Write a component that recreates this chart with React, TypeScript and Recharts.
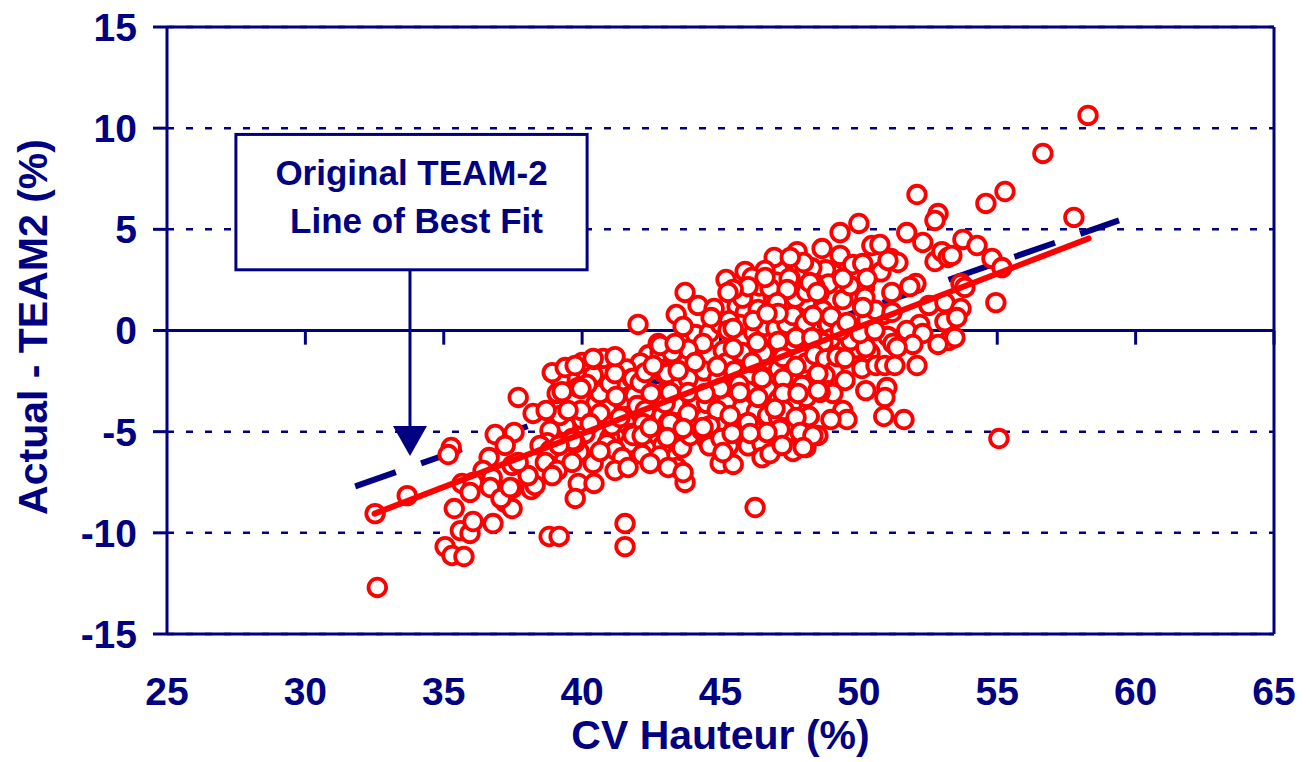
import { ComposedChart, Scatter, XAxis, YAxis, CartesianGrid, ReferenceLine, ReferenceArea, ReferenceDot } from 'recharts'

const NAVY = '#000080'
const RED = '#ff0000'
const FONT = '"Liberation Sans", Arial, sans-serif'

const xTicks = [25, 30, 35, 40, 45, 50, 55, 60, 65]
const yTicks = [-15, -10, -5, 0, 5, 10, 15]

const boxLines = ['Original TEAM-2', 'Line of Best Fit']

const originalFit = [{ x: 31.8, y: -7.7 }, { x: 59.4, y: 5.44 }]
const newFit = [{ x: 32.5, y: -9.05 }, { x: 58.3, y: 4.55 }]

// rough where the rings overlap
const underLeft = [
  [40.5, -3.6], [40.9, -3.9], [41.5, -3.4], [41.9, -3.2], [42.7, -3.6], [42.9, -4.2], [41.6, -4.6], [41, -5.3],
  [40.9, -5.6], [41.7, -5.6], [42.5, -5.5], [42.9, -5.7], [40.1, -5.1], [39.4, -4.7], [39.2, -4.2], [40, -4.4],
  [39.9, -6], [39.3, -6.2], [41.2, -5.9], [42.3, -5.8], [42.8, -6.2], [43.4, -5.5], [43.6, -5.8], [43.7, -3.5],
  [43.4, -3.7], [43, -3.6], [42.4, -1.2], [42.1, -1.6], [41.6, -1.9], [40.9, -2], [40.4, -2.2], [39.6, -2.5], [39.2, -2.4],
]
const underCentre = [
  [44.1, -0.2], [44.6, -0.1], [45, 0.3], [45.6, 1.2], [45.9, 0.9], [45.7, 0.3], [46.2, -0.1], [46.6, 0.2],
  [47, 0.1], [47.4, 0.3], [47.6, -0.6], [47.9, 0.9], [48.1, 1.4], [48.7, 1], [48.9, 0.3], [49, -0.4],
  [48.7, -0.6], [49, 0.7], [44.6, -1.2], [45.1, -1], [45.2, -1.6], [45.5, -2], [46, -2.2], [46.8, -1.5],
  [47.1, -1.9], [47.6, -2.5], [48.1, -1.6], [48.4, -1.2], [48.8, -1.4], [44.4, -2], [44.9, -2.4], [45.3, -2.9],
  [46, -3], [46.7, -2.9], [47.1, -3.4], [47.6, -3.6], [48.1, -3.3], [48.3, -2.6], [44, -3.7], [44.5, -3.6],
  [45.2, -3.6], [45.8, -3.8], [46.3, -4], [46.7, -4.2], [47.1, -4.3], [44.9, -4.6], [45.6, -5], [46.3, -5],
  [46.9, -5.6], [47.5, -5], [48, -4.6], [43.9, -5.2], [44.5, -5.4], [44.6, -5.7], [45.3, -5.7], [46, -5.7],
  [46.5, -5.6], [49.1, -2], [49.9, -0.9], [50.4, -1.1], [49.7, -0.5], [50.3, 0.5], [50.9, 0.8], [50.6, 1],
  [51.2, 0.9], [50.2, 2.1], [50.8, 2.9], [49.1, 2.8], [48.8, 3], [48.3, 3.1], [48.9, 2.3], [47.1, 3],
  [47, 2.4], [46.4, 2.2], [45.8, 1.6], [46.9, 1.7], [47.7, 1.6], [48.1, 1.9],
]
const rightLow = [
  [49.21, -1.29], [49.5, -1.38], [48.78, -2.22], [49.5, -2.47], [50.11, -1.88], [50.62, -1.73], [50.94, -1.73], [51.3, -1.73],
  [52.1, -1.73], [51.01, -2.82], [50.94, -3.31], [50.25, -2.97], [48.88, -2.97], [49.06, -3.11], [48.6, -3.06], [49.42, -3.95],
  [49.57, -4.4], [48.99, -4.4], [48.2, -4.25], [48.52, -5.19], [50.9, -4.25], [51.63, -4.4], [48.09, -5.78],
]
const rightHigh = [
  [49.32, 4.84], [48.67, 4.05], [49.32, 3.71], [49.78, 3.26], [50.14, 3.31], [50.47, 4.2], [50.76, 4.25], [51.16, 3.56],
  [51.41, 3.36], [51.05, 3.46], [51.73, 4.84], [52.31, 4.35], [52.75, 3.41], [53, 3.9], [53.22, 3.61], [53.36, 3.71],
  [53.76, 4.5], [54.27, 4.2], [54.81, 3.56], [55.17, 3.11], [53.69, 2.32], [53.83, 2.13], [52.06, 2.32], [51.84, 2.17],
  [51.19, 1.88], [49.42, 1.53], [50.14, 1.24], [50.22, 1.63], [49.68, 2.22], [49.42, 2.57], [50.29, 2.57], [48.56, 1.83],
  [47.77, 3.9], [46.94, 3.61], [48, 3.36], [47.52, 3.61], [47.52, 2.57], [48.41, 2.17], [45.89, 2.92], [46.61, 2.97],
  [52.53, 1.24], [53.11, 1.38], [53.69, 1.09], [53.11, 0.44], [53.54, 0.64], [52.2, 0.3], [51.73, 0], [52.31, -0.15],
  [53.25, -0.49], [53.47, -0.35], [52.86, -0.69], [51.95, -0.69], [51.05, -0.3], [51.23, -0.64], [51.38, -0.84], [50.25, -0.84],
  [49.32, 0], [50.04, -0.15], [50.58, 0], [50.14, 1.14], [49.57, 0.4],
]
const leftBand = [
  [36.86, -5.14], [37.54, -5.04], [37.22, -5.68], [36.64, -6.28], [36.42, -6.92], [35.66, -7.56], [36.06, -7.51], [35.95, -8],
  [36.75, -7.27], [36.68, -7.76], [37.47, -7.81], [37.22, -8.5], [37.47, -8.8], [37.07, -8.3], [38.16, -7.86], [38.3, -7.66],
  [38.05, -7.17], [37.47, -6.67], [37.69, -6.52], [37.69, -3.31], [38.23, -4.1], [38.7, -3.95], [37.4, -7.76],
]
const midLeftBand = [
  [40.65, -3.11], [39.86, -2.82], [41.48, -2.47], [43.07, -2.97], [41.81, -2.37], [42.93, -2.08], [43.18, -1.14], [42.2, -3.9],
  [43.11, -4.55], [41.81, -5.09], [39.75, -5.54], [39.64, -5.34], [38.74, -6.43], [40, -1.58], [40.43, -1.43], [40.76, -1.38],
  [39.1, -3.11], [40.18, -2.67], [41.01, -2.62], [39.96, -2.87], [41.19, -2.13], [41.23, -3.26], [39.96, -3.95], [39.49, -3.95],
  [40.65, -4.1], [38.84, -4.94], [38.74, -5.54], [38.48, -5.68], [38.84, -5.93], [38.67, -6.52], [40.29, -4.6], [39.67, -5.44],
  [39.17, -5.68], [39.1, -6.92], [38.92, -7.17], [39.64, -6.52], [40.4, -6.57], [40.65, -5.98], [41.08, -4.7], [41.37, -4.3],
  [41.45, -6.28], [41.19, -6.92], [41.66, -6.77], [42.17, -6.13], [42.46, -6.57], [39.86, -7.56], [40.43, -7.56], [39.75, -8.3],
  [41.99, -3.71], [41.84, -2.37], [42.1, -2.57], [42.49, -3.11], [43.18, -3.06], [42.28, -3.95], [42.28, -2.08], [43.07, -2.13],
  [43.29, -1.09], [42.82, -1.09], [42.75, -0.64], [42.02, 0.3], [43.18, -4.55], [43.07, -5.29], [42.2, -4.6], [41.84, -5.19],
  [42.17, -5.19], [42.46, -4.79], [43.43, -6.77], [43.11, -6.77], [38.92, -2.08], [39.39, -1.83], [39.75, -1.73], [40.4, -1.38],
  [41.19, -1.29], [39.28, -3.02],
]
const centreUpper = [
  [43.72, 1.88], [44.19, 1.24], [44.77, 1.09], [44.66, 0.64], [43.4, 0.79], [43.65, 0.2], [44.37, -0.64], [43.83, -0.94],
  [43.25, -1.09], [42.82, -0.74], [43.36, -0.64], [45.2, 2.52], [46.14, 2.62], [46, 2.17], [45.46, 2.03], [45.27, 1.88],
  [46.79, 2.08], [46.61, 2.62], [47.48, 2.57], [47.41, 2.03], [48.23, 2.37], [48.49, 1.88], [47.05, 1.38], [46.36, 1.04],
  [45.31, 0.49], [45.27, 0], [45.46, 0.1], [47.62, 0.74], [48.06, 0.35], [48.34, 0.74], [47.08, 0.84], [46.18, 0.49],
  [46.68, 0.84], [47.08, -0.54], [47.73, -0.35], [48.3, -0.35], [45.78, -1.09], [45.46, -0.89], [46.54, -1.09], [46.32, -0.59],
  [47.26, -1.33],
]
const centreLower = [
  [44.08, -1.58], [44.88, -1.78], [46.14, -1.58], [47.73, -1.78], [42.57, -1.73], [43.83, -2.37], [43.47, -1.98], [46.5, -2.37],
  [47.26, -2.37], [48.52, -2.13], [45.67, -2.67], [44.99, -2.87], [47.95, -2.72], [43.83, -3.06], [44.44, -3.11], [46.36, -3.31],
  [47.26, -3.11], [47.8, -3.11], [48.52, -2.97], [45.7, -3.06], [43.83, -4.1], [44.88, -3.95], [44.62, -4.7], [45.35, -4.2],
  [46, -4.55], [47.3, -3.95], [46.97, -3.86], [48.2, -4.25], [47.73, -4.3], [47.15, -4.89], [46.68, -5.04], [47.88, -5.04],
  [45.02, -5.34], [45.42, -5.09], [46.07, -5.09], [43.65, -4.84], [48.34, -5.19], [44.33, -4.94], [43.72, -7.51], [43.65, -7.02],
  [44.99, -6.57], [45.46, -6.62], [45.09, -6.03], [46.5, -6.28], [46.79, -6.08], [47.62, -5.98], [47.99, -5.78], [47.23, -5.68],
  [44.37, -4.79],
]
const strays = [
  [32.6, -12.7], [32.52, -9.05], [33.68, -8.16], [35.27, -5.78], [35.16, -6.13], [35.38, -8.8], [35.05, -10.68], [35.3, -11.12],
  [35.73, -11.17], [35.6, -9.89], [35.95, -10.03], [36.06, -9.44], [36.78, -9.54], [38.81, -10.18], [39.17, -10.18], [41.55, -9.54],
  [41.55, -10.68], [46.25, -8.75], [55.06, -5.34], [54.95, 1.38], [58.28, 10.63], [56.65, 8.75], [57.77, 5.59], [55.28, 6.87],
  [54.59, 6.28], [52.1, 6.72], [52.86, 5.78], [52.75, 5.44], [50, 5.29],
]

const points = [
  ...underLeft, ...underCentre, ...rightLow, ...rightHigh, ...leftBand, ...midLeftBand, ...centreUpper, ...centreLower, ...strays,
].map(([x, y]) => ({ x, y }))

const Ring = (props: any) => (
  <circle cx={props.cx} cy={props.cy} r={8.8} fill="#fff" stroke={RED} strokeWidth={3.8} />
)
const NoDot = () => <g />

const NoteBox = (props: any) => {
  const { x, y, width, height } = props
  return (
    <g>
      <rect x={x} y={y} width={width} height={height} fill="#fff" stroke={NAVY} strokeWidth={3} />
      {boxLines.map((line, i) => (
        <text key={line} x={x + width / 2 + (i === 0 ? 0 : 5)} y={y + 51 + i * 48} textAnchor="middle" fontFamily={FONT} fontWeight="bold" fontSize={35} fill={NAVY}>
          {line}
        </text>
      ))}
    </g>
  )
}

const ArrowHead = (props: any) => {
  const { cx, cy } = props
  return <path d={`M${cx - 17} ${cy - 30} L${cx + 17} ${cy - 30} L${cx} ${cy} Z`} fill={NAVY} />
}

const YTitle = () => (
  <text transform="translate(47 327) rotate(-90)" textAnchor="middle" fontFamily={FONT} fontWeight="bold" fontSize={41} fill={NAVY}>
    Actual - TEAM2 (%)
  </text>
)

export default function App() {
  return (
    <div style={{ position: 'absolute', left: 0, top: 0, width: 1310, height: 762, background: '#fff' }}>
      <ComposedChart width={1310} height={762} margin={{ top: 27, right: 36, bottom: 0, left: 0 }}>
        <CartesianGrid vertical={false} stroke={NAVY} strokeWidth={2.5} strokeDasharray="7 12" />
        <XAxis
          type="number"
          dataKey="x"
          domain={[25, 65]}
          ticks={xTicks}
          height={128}
          interval={0}
          tickLine={false}
          axisLine={{ stroke: NAVY, strokeWidth: 3 }}
          tickMargin={37}
          tick={{ fill: NAVY, fontFamily: FONT, fontWeight: 'bold', fontSize: 39 }}
          label={{ value: 'CV Hauteur (%)', position: 'insideBottom', offset: 13, fill: NAVY, fontFamily: FONT, fontWeight: 'bold', fontSize: 41 }}
        />
        <YAxis
          type="number"
          dataKey="y"
          domain={[-15, 15]}
          ticks={yTicks}
          width={167}
          interval={0}
          axisLine={{ stroke: NAVY, strokeWidth: 3 }}
          tickLine={{ stroke: NAVY, strokeWidth: 3 }}
          tickSize={14}
          tickMargin={16}
          tick={{ fill: NAVY, fontFamily: FONT, fontWeight: 'bold', fontSize: 39 }}
          label={{ content: YTitle }}
        />
        <ReferenceLine y={15} stroke={NAVY} strokeWidth={3} />
        <ReferenceLine x={65} stroke={NAVY} strokeWidth={3} />
        <ReferenceLine y={0} stroke={NAVY} strokeWidth={3} />
        {xTicks.slice(1).map((t) => (
          <ReferenceLine key={t} segment={[{ x: t, y: 0 }, { x: t, y: -0.7 }]} stroke={NAVY} strokeWidth={3} />
        ))}
        <Scatter data={originalFit} dataKey="y" line={{ stroke: NAVY, strokeWidth: 6, strokeDasharray: '43 26.8' }} shape={NoDot} isAnimationActive={false} />
        <ReferenceArea x1={27.49} x2={40.18} y1={3} y2={9.69} shape={NoteBox} />
        <ReferenceLine segment={[{ x: 33.78, y: 3 }, { x: 33.78, y: -5 }]} stroke={NAVY} strokeWidth={3} />
        <ReferenceDot x={33.78} y={-6.2} shape={ArrowHead} />
        <Scatter data={points} dataKey="y" shape={Ring} isAnimationActive={false} />
        <Scatter data={newFit} dataKey="y" line={{ stroke: RED, strokeWidth: 6, strokeLinecap: 'round' }} shape={NoDot} isAnimationActive={false} />
      </ComposedChart>
    </div>
  )
}
